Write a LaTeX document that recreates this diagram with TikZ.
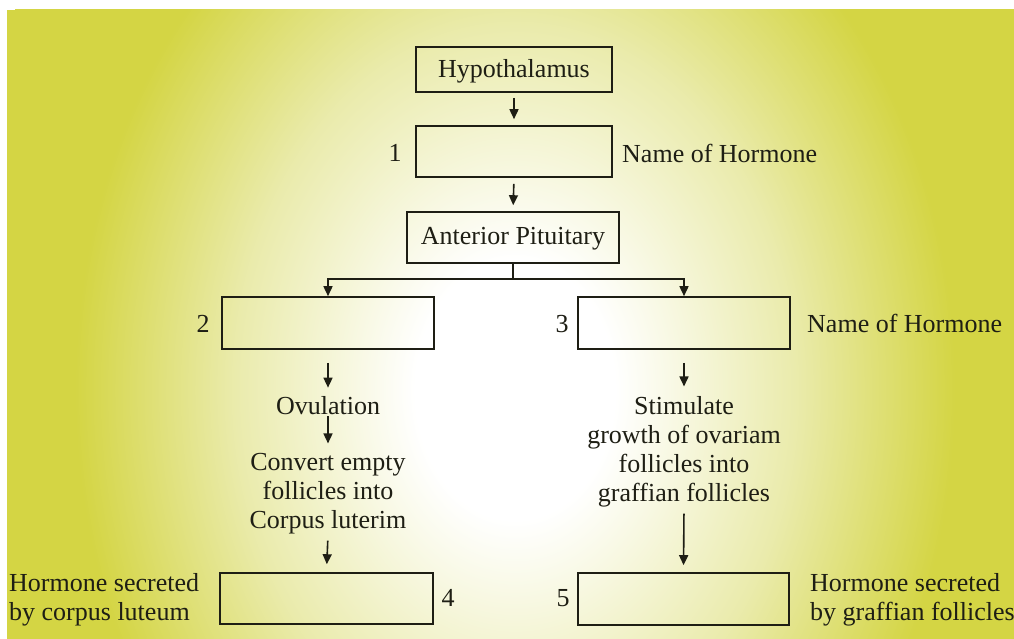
\documentclass[tikz,border=0pt]{standalone}
\usepackage{fontspec}
\setmainfont{Liberation Serif}
\usetikzlibrary{arrows.meta}
\definecolor{yout}{RGB}{212,213,68}
\definecolor{ymid}{RGB}{234,235,172}
\definecolor{ink}{RGB}{30,30,20}
\pgfdeclareradialshading{bgshade}{\pgfpoint{0bp}{0bp}}{color(0bp)=(white); color(5bp)=(white); color(14bp)=(ymid); color(22bp)=(yout); color(50bp)=(yout)}
\tikzset{
  box/.style={draw=ink, line width=1.6pt, inner sep=0pt},
  txt/.style={text=ink, inner sep=0pt, font=\fontsize{26}{29}\selectfont},
  link/.style={draw=ink, line width=1.6pt, -{Triangle[length=10pt,width=9pt]}},
  plain/.style={draw=ink, line width=1.6pt}
}
\begin{document}
\begin{tikzpicture}[x=1pt,y=-1pt]
\useasboundingbox (0,0) rectangle (1014,639);
\fill[white] (0,0) rectangle (1014,639);
\begin{scope}
\clip (7,10) rectangle (1014,639);
\fill[yout] (7,10) rectangle (1014,639);
\shade[shading=bgshade] (15,-260) rectangle (1015,1040);
\end{scope}

% boxes
\node[box, minimum width=196pt, minimum height=45pt] (hyp) at (514,69.5) {};
\node[txt] at (514,71) {Hypothalamus};
\node[box, minimum width=196pt, minimum height=51pt] (b1) at (514,151.5) {};
\node[box, minimum width=212pt, minimum height=51pt] (ap) at (513,237.5) {};
\node[txt] at (513,239) {Anterior Pituitary};
\node[box, minimum width=212pt, minimum height=52pt] (b2) at (328,323) {};
\node[box, minimum width=212pt, minimum height=52pt] (b3) at (684,323) {};
\node[box, minimum width=213pt, minimum height=51pt] (b4) at (326.5,598.5) {};
\node[box, minimum width=211pt, minimum height=52pt] (b5) at (683.5,599) {};

% labels
\node[txt] (n1) at (395,153) {1};
\node[txt, anchor=west] (h1) at (622,153) {Name of Hormone};
\node[txt] (n2) at (203,324) {2};
\node[txt] (n3) at (562,324) {3};
\node[txt, anchor=west] (h3) at (807,323) {Name of Hormone};
\node[txt] (n4) at (448,598) {4};
\node[txt] (n5) at (563,598) {5};
\node[txt, anchor=west, align=left] (l4) at (9,600) {Hormone secreted\\by corpus luteum};
\node[txt, anchor=west, align=left] (l5) at (810,600) {Hormone secreted\\by graffian follicles};

% middle texts
\node[txt] (ov) at (328,406) {Ovulation};
\node[txt, align=center] (cv) at (328,494) {Convert empty\\follicles into\\Corpus luterim};
\node[txt, align=center] (st) at (684,452) {Stimulate\\growth of ovariam\\follicles into\\graffian follicles};

% connectors
\draw[link, shorten <=5pt, shorten >=6pt] (hyp.south) -- (b1.north);
\draw[link, shorten <=6pt, shorten >=6pt] (b1.south) -- (ap.north);
\coordinate (fork) at (513,279);
\draw[plain] (ap.south) -- (fork);
\draw[link] (fork) -| (b2.north);
\draw[link] (fork) -| (b3.north);
\draw[link, shorten <=13pt, shorten >=9pt] (b2.south) -- (ov.north);
\draw[link, shorten <=1pt, shorten >=10pt] (ov.south) -- (cv.north);
\draw[link, shorten <=6pt, shorten >=8pt] (cv.south) -- (b4.north);
\draw[link, shorten <=13pt, shorten >=10pt] (b3.south) -- (st.north);
\draw[link, shorten <=6pt, shorten >=7pt] (st.south) -- (b5.north);
\end{tikzpicture}
\end{document}
